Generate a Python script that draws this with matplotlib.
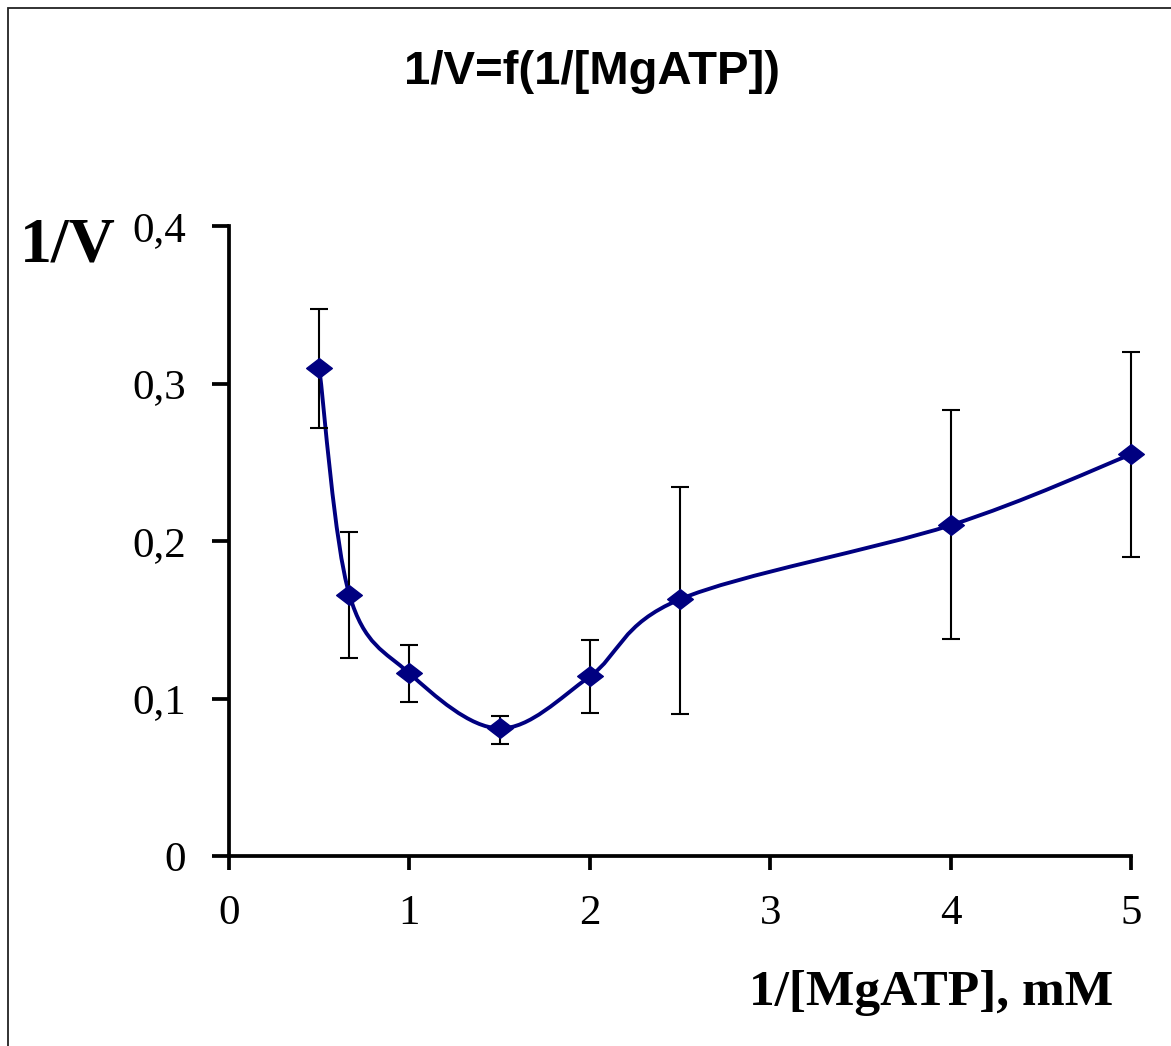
import numpy as np
import matplotlib
matplotlib.use("Agg")
import matplotlib.pyplot as plt
from matplotlib.path import Path
from matplotlib.patches import PathPatch, Rectangle

# ---- data ----
x_vals = [0.5, 0.667, 1.0, 1.5, 2.0, 2.5, 4.0, 5.0]
y_vals = [0.310, 0.166, 0.116, 0.081, 0.114, 0.163, 0.210, 0.255]
err_up = [0.037, 0.040, 0.018, 0.008, 0.023, 0.071, 0.073, 0.065]
err_dn = [0.038, 0.040, 0.018, 0.010, 0.023, 0.073, 0.072, 0.065]
x_ticks = [0, 1, 2, 3, 4, 5]
x_ticklabels = ["0", "1", "2", "3", "4", "5"]
y_ticks = [0, 0.1, 0.2, 0.3, 0.4]
y_ticklabels = ["0", "0,1", "0,2", "0,3", "0,4"]

NAVY = "#000080"
W, H = 1171, 1046
fig = plt.figure(figsize=(W / 100, H / 100), dpi=100)

# outer frame
fig.patches.append(Rectangle((8 / W, -0.1), 1.2, 1 - 8 / H + 0.1, transform=fig.transFigure,
                             fill=False, edgecolor="#222222", linewidth=1.3))

ax = fig.add_axes([229 / W, 1 - 856 / H, (1131 - 229) / W, (856 - 226) / H])
ax.set_xlim(0, 5)
ax.set_ylim(0, 0.4)
for s in ("top", "right"):
    ax.spines[s].set_visible(False)
for s in ("left", "bottom"):
    ax.spines[s].set_linewidth(2.7)
    ax.spines[s].set_color("black")
ax.patch.set_alpha(0)

serif = ["Liberation Serif", "DejaVu Serif"]
ax.set_xticks(x_ticks)
ax.set_xticklabels(x_ticklabels, family=serif, fontsize=31)
ax.set_yticks(y_ticks)
ax.set_yticklabels(y_ticklabels, family=serif, fontsize=31)
ax.tick_params(axis="y", direction="out", length=12, width=2.7, pad=19)
ax.tick_params(axis="x", direction="out", length=10, width=2.7, pad=18)

# smoothed line (Catmull-Rom Bezier through data points)
P = np.column_stack([x_vals, y_vals])
n = len(P)
verts = [tuple(P[0])]
codes = [Path.MOVETO]
for i in range(n - 1):
    p0 = P[max(i - 1, 0)]
    p1 = P[i]
    p2 = P[i + 1]
    p3 = P[min(i + 2, n - 1)]
    c1 = p1 + (p2 - p0) / 6.0
    c2 = p2 - (p3 - p1) / 6.0
    verts += [tuple(c1), tuple(c2), tuple(p2)]
    codes += [Path.CURVE4] * 3
ax.add_patch(PathPatch(Path(verts, codes), facecolor="none", edgecolor=NAVY,
                       linewidth=2.8, zorder=2, clip_on=False))

# error bars
ax.errorbar(x_vals, y_vals, yerr=[err_dn, err_up], fmt="none", ecolor="black",
            elinewidth=1.5, capsize=6.5, capthick=1.5, zorder=3, clip_on=False)

# markers: diamond, slightly wider than tall
diamond = Path([(-1, 0), (0, 0.77), (1, 0), (0, -0.77), (-1, 0)],
               [Path.MOVETO, Path.LINETO, Path.LINETO, Path.LINETO, Path.CLOSEPOLY])
ax.plot(x_vals, y_vals, linestyle="none", marker=diamond, markersize=18.5,
        color=NAVY, zorder=4, clip_on=False)

# texts
fig.text(592 / W, 1 - 84 / H, "1/V=f(1/[MgATP])", ha="center", va="baseline",
         family=["Liberation Sans", "DejaVu Sans"], fontweight="bold", fontsize=34)
fig.text(20 / W, 1 - 262 / H, "1/V", ha="left", va="baseline",
         family=serif, fontweight="bold", fontsize=46)
fig.text(1113 / W, 1 - 1005 / H, "1/[MgATP], mM", ha="right", va="baseline",
         family=serif, fontweight="bold", fontsize=37)

fig.savefig("out.png", dpi=100)
